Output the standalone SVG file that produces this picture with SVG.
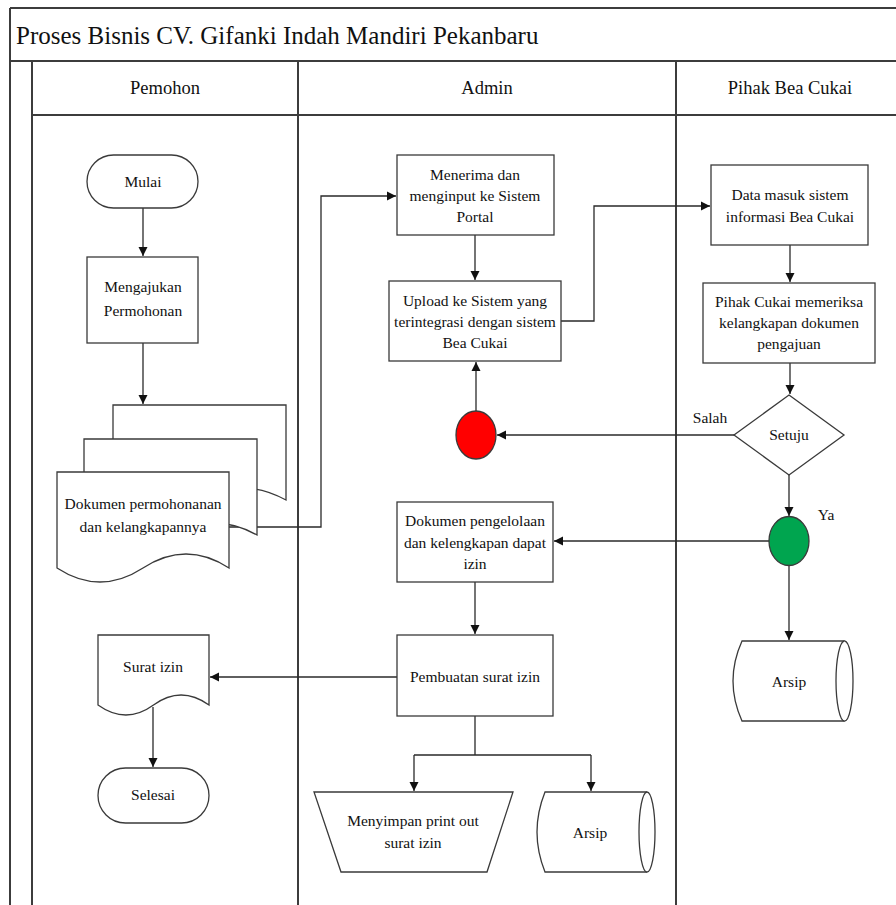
<svg xmlns="http://www.w3.org/2000/svg" width="896" height="905" viewBox="0 0 896 905">
<style>
.frame{stroke:#3c3c3c;stroke-width:2;fill:none}
.node{fill:#ffffff;stroke:#3a3a3a;stroke-width:1.3}
.edge{fill:none;stroke:#2a2a2a;stroke-width:1.3}
text{font-family:"Liberation Serif","Times New Roman",serif;fill:#111;text-anchor:middle}
.t{font-size:15.5px}
.h{font-size:18.5px}
</style>
<defs>
<marker id="ah" markerWidth="10" markerHeight="10" refX="9" refY="5" orient="auto" markerUnits="userSpaceOnUse">
<path d="M0,0.5 L9,5 L0,9.5 Z" fill="#111"/>
</marker>
</defs>
<rect width="896" height="905" fill="#ffffff"/>
<g id="pool">
<line class="frame" x1="10" y1="8" x2="896" y2="8"/>
<line class="frame" x1="10" y1="8" x2="10" y2="905"/>
<line class="frame" x1="10" y1="61" x2="896" y2="61"/>
<line class="frame" x1="32" y1="61" x2="32" y2="905"/>
<line class="frame" x1="32" y1="115" x2="896" y2="115"/>
<line class="frame" x1="298" y1="61" x2="298" y2="905"/>
<line class="frame" x1="676" y1="61" x2="676" y2="905"/>
<text x="16" y="44" style="font-size:25px;text-anchor:start">Proses Bisnis CV. Gifanki Indah Mandiri Pekanbaru</text>
<text class="h" x="165" y="94">Pemohon</text>
<text class="h" x="487" y="94">Admin</text>
<text class="h" x="790" y="94">Pihak Bea Cukai</text>
</g>
<g id="connectors">
<path class="edge" d="M143,208 V256" marker-end="url(#ah)"/>
<path class="edge" d="M143,343 V404" marker-end="url(#ah)"/>
<path class="edge" d="M229,527 H321 V196 H396" marker-end="url(#ah)"/>
<path class="edge" d="M475,235 V280" marker-end="url(#ah)"/>
<path class="edge" d="M561,321 H594 V206 H710" marker-end="url(#ah)"/>
<path class="edge" d="M790,245 V282" marker-end="url(#ah)"/>
<path class="edge" d="M790,363 V394" marker-end="url(#ah)"/>
<path class="edge" d="M734,435 H497" marker-end="url(#ah)"/>
<path class="edge" d="M476,411 V362" marker-end="url(#ah)"/>
<path class="edge" d="M789,475 V516" marker-end="url(#ah)"/>
<path class="edge" d="M769,541 H554" marker-end="url(#ah)"/>
<path class="edge" d="M789,566 V640" marker-end="url(#ah)"/>
<path class="edge" d="M475,582 V634" marker-end="url(#ah)"/>
<path class="edge" d="M397,677 H210" marker-end="url(#ah)"/>
<path class="edge" d="M153,707 V767" marker-end="url(#ah)"/>
<path class="edge" d="M475,716 V755 M414,755 H591"/>
<path class="edge" d="M414,755 V791" marker-end="url(#ah)"/>
<path class="edge" d="M591,755 V791" marker-end="url(#ah)"/>
<text class="t" x="710" y="423">Salah</text>
<text class="t" x="826" y="520">Ya</text>
</g>
<g id="mulai">
<rect class="node" x="87" y="155" width="111" height="53" rx="26.5"/>
<text class="t" x="143" y="187">Mulai</text>
</g>
<g id="mengajukan">
<rect class="node" x="87" y="257" width="111" height="86"/>
<text class="t" x="143" y="292">Mengajukan</text>
<text class="t" x="143" y="316">Permohonan</text>
</g>
<g id="dokumen-permohonan">
<path class="node" d="M113,405 H286 V500 Q243,476 199.5,500 Q156,524 113,500 Z"/>
<path class="node" d="M84,439 H257 V535 Q214,511 170.5,535 Q127,559 84,535 Z"/>
<path class="node" d="M57,472 H229 V568 Q186,540 143,568 Q100,596 57,568 Z"/>
<text class="t" x="143" y="509">Dokumen permohonanan</text>
<text class="t" x="143" y="532">dan kelangkapannya</text>
</g>
<g id="menerima">
<rect class="node" x="397" y="155" width="157" height="80"/>
<text class="t" x="475" y="180">Menerima dan</text>
<text class="t" x="475" y="201">menginput ke Sistem</text>
<text class="t" x="475" y="222">Portal</text>
</g>
<g id="upload">
<rect class="node" x="389" y="281" width="172" height="80"/>
<text class="t" x="475" y="306">Upload ke Sistem yang</text>
<text class="t" x="475" y="327">terintegrasi dengan sistem</text>
<text class="t" x="475" y="348">Bea Cukai</text>
</g>
<g id="data-masuk">
<rect class="node" x="711" y="165" width="157" height="80"/>
<text class="t" x="790" y="200">Data masuk sistem</text>
<text class="t" x="790" y="222">informasi Bea Cukai</text>
</g>
<g id="pihak-cukai">
<rect class="node" x="703" y="283" width="172" height="80"/>
<text class="t" x="789" y="307">Pihak Cukai memeriksa</text>
<text class="t" x="789" y="328">kelangkapan dokumen</text>
<text class="t" x="789" y="349">pengajuan</text>
</g>
<g id="setuju">
<path class="node" d="M789,395 L844,435 L789,475 L734,435 Z"/>
<text class="t" x="789" y="440">Setuju</text>
</g>
<g id="salah-connector">
<ellipse cx="476" cy="435" rx="20" ry="24" fill="#ff0000" stroke="#3a3a3a" stroke-width="1.3"/>
</g>
<g id="ya-connector">
<ellipse cx="789" cy="541" rx="20" ry="24.5" fill="#00a54f" stroke="#3a3a3a" stroke-width="1.3"/>
</g>
<g id="dokumen-pengelolaan">
<rect class="node" x="397" y="502" width="156" height="80"/>
<text class="t" x="475" y="526">Dokumen pengelolaan</text>
<text class="t" x="475" y="548">dan kelengkapan dapat</text>
<text class="t" x="475" y="569">izin</text>
</g>
<g id="arsip-bea">
<path class="node" d="M742,641 H844.5 A8.5,40 0 0 1 844.5,721 H742 Q724,681 742,641 Z"/>
<path class="node" d="M844.5,641 A8.5,40 0 0 0 844.5,721" fill="none"/>
<text class="t" x="789" y="687">Arsip</text>
</g>
<g id="pembuatan">
<rect class="node" x="397" y="635" width="156" height="81"/>
<text class="t" x="475" y="682">Pembuatan surat izin</text>
</g>
<g id="surat-izin">
<path class="node" d="M98,635 H209 V705 Q181,685 153.5,705 Q126,725 98,705 Z"/>
<text class="t" x="153" y="672">Surat izin</text>
</g>
<g id="selesai">
<rect class="node" x="98" y="768" width="111" height="55" rx="27.5"/>
<text class="t" x="153" y="800">Selesai</text>
</g>
<g id="menyimpan">
<path class="node" d="M314,792 H513 L487,872 H341 Z"/>
<text class="t" x="413" y="826">Menyimpan print out</text>
<text class="t" x="413" y="848">surat izin</text>
</g>
<g id="arsip-admin">
<path class="node" d="M545,792 H647 A8,40 0 0 1 647,872 H545 Q529,832 545,792 Z"/>
<path class="node" d="M647,792 A8,40 0 0 0 647,872" fill="none"/>
<text class="t" x="590" y="838">Arsip</text>
</g>
</svg>
